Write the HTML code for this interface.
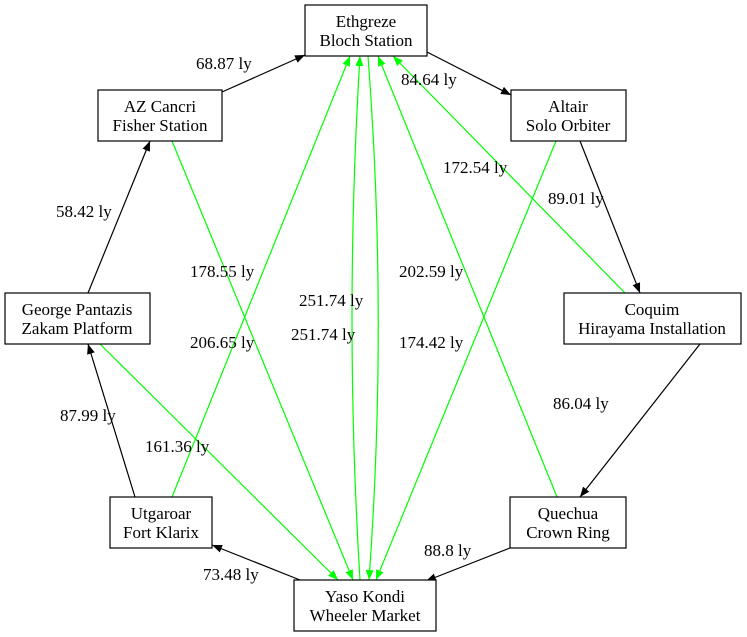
<!DOCTYPE html>
<html><head><meta charset="utf-8"><style>
html,body{margin:0;padding:0;background:#fff;}
svg{display:block;}
text{font-family:"Liberation Serif","DejaVu Serif",serif;font-size:17px;}
</style></head><body>
<svg width="747" height="637" viewBox="0 0 747 637" font-family="Liberation Serif, serif" font-size="17">
<defs>
<marker id="ab" viewBox="0 0 10 10" refX="10" refY="5" markerWidth="10" markerHeight="10" markerUnits="userSpaceOnUse" orient="auto"><path d="M0,1 L10,5 L0,9 z" fill="#000"/></marker>
<marker id="ag" viewBox="0 0 10 10" refX="10" refY="5" markerWidth="10" markerHeight="10" markerUnits="userSpaceOnUse" orient="auto"><path d="M0,1 L10,5 L0,9 z" fill="#0f0"/></marker>
</defs>
<g fill="none" stroke="#000" stroke-width="1.2" marker-end="url(#ab)">
<line x1="222" y1="92" x2="305" y2="55"/>
<line x1="427" y1="52" x2="511" y2="95"/>
<line x1="580" y1="141" x2="640" y2="293"/>
<line x1="700" y1="344" x2="580" y2="497"/>
<line x1="510" y1="548" x2="426" y2="581"/>
<line x1="300" y1="580" x2="212" y2="545"/>
<line x1="135" y1="497" x2="88" y2="344"/>
<line x1="88" y1="293" x2="150" y2="141"/>
</g>
<g fill="none" stroke="#0f0" stroke-width="1.2" marker-end="url(#ag)">
<line x1="172" y1="141" x2="353" y2="580"/>
<line x1="172" y1="497" x2="350" y2="56"/>
<line x1="100" y1="344" x2="338" y2="580"/>
<line x1="556" y1="141" x2="376" y2="580"/>
<line x1="557" y1="497" x2="378" y2="56"/>
<line x1="625" y1="293" x2="393" y2="56"/>
<path d="M360,580 Q344,318 360,56"/>
<path d="M368,56 Q388,318 369,580"/>
</g>
<g fill="#fff" stroke="#000" stroke-width="1.2">
<rect x="305" y="5" width="122" height="51"/>
<rect x="511" y="90" width="115" height="51"/>
<rect x="564" y="293" width="177" height="51"/>
<rect x="510" y="497" width="116" height="51"/>
<rect x="294" y="580" width="142" height="51"/>
<rect x="110" y="497" width="102" height="51"/>
<rect x="5" y="293" width="145" height="51"/>
<rect x="98" y="90" width="124" height="51"/>
</g>
<g text-anchor="middle" fill="#000">
<text x="366" y="27">Ethgreze</text><text x="366" y="46">Bloch Station</text>
<text x="568" y="112">Altair</text><text x="568" y="131">Solo Orbiter</text>
<text x="652" y="315">Coquim</text><text x="652" y="334">Hirayama Installation</text>
<text x="568" y="519">Quechua</text><text x="568" y="538">Crown Ring</text>
<text x="365" y="602">Yaso Kondi</text><text x="365" y="621">Wheeler Market</text>
<text x="161" y="519">Utgaroar</text><text x="161" y="538">Fort Klarix</text>
<text x="77" y="315">George Pantazis</text><text x="77" y="334">Zakam Platform</text>
<text x="160" y="112">AZ Cancri</text><text x="160" y="131">Fisher Station</text>
</g>
<g fill="#000">
<text x="196" y="69">68.87 ly</text>
<text x="401" y="85">84.64 ly</text>
<text x="548" y="204">89.01 ly</text>
<text x="553" y="409">86.04 ly</text>
<text x="424" y="556">88.8 ly</text>
<text x="203" y="580">73.48 ly</text>
<text x="60" y="421">87.99 ly</text>
<text x="56" y="217">58.42 ly</text>
<text x="443" y="173">172.54 ly</text>
<text x="190" y="277">178.55 ly</text>
<text x="399" y="277">202.59 ly</text>
<text x="299" y="306">251.74 ly</text>
<text x="190" y="348">206.65 ly</text>
<text x="291" y="340">251.74 ly</text>
<text x="399" y="348">174.42 ly</text>
<text x="145" y="452">161.36 ly</text>
</g>
</svg>
</body></html>
